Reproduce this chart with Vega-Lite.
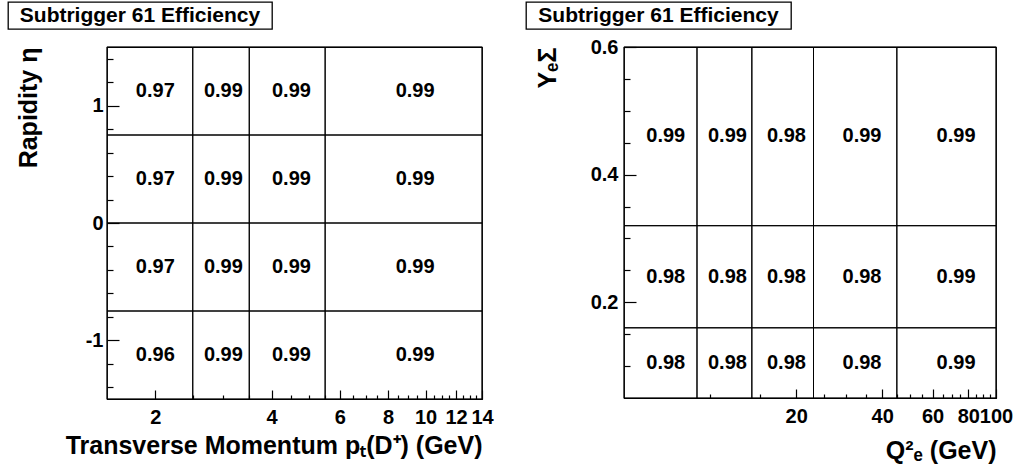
{
  "$schema": "https://vega.github.io/schema/vega-lite/v6.json",
  "padding": {"left": 7, "top": 1, "right": 0, "bottom": 0},
  "background": "white",
  "config": {
    "font": "Liberation Sans",
    "view": {"stroke": "black", "strokeWidth": 1.2},
    "axis": {
      "labelFont": "Liberation Sans", "labelFontWeight": "bold", "labelFontSize": 20, "labelColor": "black",
      "titleFont": "Liberation Sans", "titleFontWeight": "bold", "titleFontSize": 25, "titleColor": "black",
      "domain": false, "grid": false, "tickColor": "black", "tickWidth": 1.2, "labelFlush": false, "labelOverlap": false
    },
    "text": {"font": "Liberation Sans", "fontWeight": "bold", "fontSize": 20, "color": "black"}
  },
  "datasets": {
    "hdr": [{"title": "Subtrigger 61 Efficiency"}],
    "none": [],
    "left": [
      {"pt_lo": 1.5, "pt_hi": 2.5, "pt_c": 2, "eta_lo": 0.75, "eta_hi": 1.5, "eta_c": 1.125, "eff": 0.97},
      {"pt_lo": 2.5, "pt_hi": 3.5, "pt_c": 3, "eta_lo": 0.75, "eta_hi": 1.5, "eta_c": 1.125, "eff": 0.99},
      {"pt_lo": 3.5, "pt_hi": 5.5, "pt_c": 4.5, "eta_lo": 0.75, "eta_hi": 1.5, "eta_c": 1.125, "eff": 0.99},
      {"pt_lo": 5.5, "pt_hi": 14, "pt_c": 9.4, "eta_lo": 0.75, "eta_hi": 1.5, "eta_c": 1.125, "eff": 0.99},
      {"pt_lo": 1.5, "pt_hi": 2.5, "pt_c": 2, "eta_lo": 0, "eta_hi": 0.75, "eta_c": 0.375, "eff": 0.97},
      {"pt_lo": 2.5, "pt_hi": 3.5, "pt_c": 3, "eta_lo": 0, "eta_hi": 0.75, "eta_c": 0.375, "eff": 0.99},
      {"pt_lo": 3.5, "pt_hi": 5.5, "pt_c": 4.5, "eta_lo": 0, "eta_hi": 0.75, "eta_c": 0.375, "eff": 0.99},
      {"pt_lo": 5.5, "pt_hi": 14, "pt_c": 9.4, "eta_lo": 0, "eta_hi": 0.75, "eta_c": 0.375, "eff": 0.99},
      {"pt_lo": 1.5, "pt_hi": 2.5, "pt_c": 2, "eta_lo": -0.75, "eta_hi": 0, "eta_c": -0.375, "eff": 0.97},
      {"pt_lo": 2.5, "pt_hi": 3.5, "pt_c": 3, "eta_lo": -0.75, "eta_hi": 0, "eta_c": -0.375, "eff": 0.99},
      {"pt_lo": 3.5, "pt_hi": 5.5, "pt_c": 4.5, "eta_lo": -0.75, "eta_hi": 0, "eta_c": -0.375, "eff": 0.99},
      {"pt_lo": 5.5, "pt_hi": 14, "pt_c": 9.4, "eta_lo": -0.75, "eta_hi": 0, "eta_c": -0.375, "eff": 0.99},
      {"pt_lo": 1.5, "pt_hi": 2.5, "pt_c": 2, "eta_lo": -1.5, "eta_hi": -0.75, "eta_c": -1.125, "eff": 0.96},
      {"pt_lo": 2.5, "pt_hi": 3.5, "pt_c": 3, "eta_lo": -1.5, "eta_hi": -0.75, "eta_c": -1.125, "eff": 0.99},
      {"pt_lo": 3.5, "pt_hi": 5.5, "pt_c": 4.5, "eta_lo": -1.5, "eta_hi": -0.75, "eta_c": -1.125, "eff": 0.99},
      {"pt_lo": 5.5, "pt_hi": 14, "pt_c": 9.4, "eta_lo": -1.5, "eta_hi": -0.75, "eta_c": -1.125, "eff": 0.99}
    ],
    "right": [
      {"q_lo": 5, "q_hi": 9, "q_c": 7, "y_lo": 0.32, "y_hi": 0.6, "y_c": 0.46, "eff": 0.99},
      {"q_lo": 9, "q_hi": 14, "q_c": 11.5, "y_lo": 0.32, "y_hi": 0.6, "y_c": 0.46, "eff": 0.99},
      {"q_lo": 14, "q_hi": 23, "q_c": 18.5, "y_lo": 0.32, "y_hi": 0.6, "y_c": 0.46, "eff": 0.98},
      {"q_lo": 23, "q_hi": 45, "q_c": 34, "y_lo": 0.32, "y_hi": 0.6, "y_c": 0.46, "eff": 0.99},
      {"q_lo": 45, "q_hi": 100, "q_c": 72.5, "y_lo": 0.32, "y_hi": 0.6, "y_c": 0.46, "eff": 0.99},
      {"q_lo": 5, "q_hi": 9, "q_c": 7, "y_lo": 0.16, "y_hi": 0.32, "y_c": 0.24, "eff": 0.98},
      {"q_lo": 9, "q_hi": 14, "q_c": 11.5, "y_lo": 0.16, "y_hi": 0.32, "y_c": 0.24, "eff": 0.98},
      {"q_lo": 14, "q_hi": 23, "q_c": 18.5, "y_lo": 0.16, "y_hi": 0.32, "y_c": 0.24, "eff": 0.98},
      {"q_lo": 23, "q_hi": 45, "q_c": 34, "y_lo": 0.16, "y_hi": 0.32, "y_c": 0.24, "eff": 0.98},
      {"q_lo": 45, "q_hi": 100, "q_c": 72.5, "y_lo": 0.16, "y_hi": 0.32, "y_c": 0.24, "eff": 0.99},
      {"q_lo": 5, "q_hi": 9, "q_c": 7, "y_lo": 0.05, "y_hi": 0.16, "y_c": 0.105, "eff": 0.98},
      {"q_lo": 9, "q_hi": 14, "q_c": 11.5, "y_lo": 0.05, "y_hi": 0.16, "y_c": 0.105, "eff": 0.98},
      {"q_lo": 14, "q_hi": 23, "q_c": 18.5, "y_lo": 0.05, "y_hi": 0.16, "y_c": 0.105, "eff": 0.98},
      {"q_lo": 23, "q_hi": 45, "q_c": 34, "y_lo": 0.05, "y_hi": 0.16, "y_c": 0.105, "eff": 0.98},
      {"q_lo": 45, "q_hi": 100, "q_c": 72.5, "y_lo": 0.05, "y_hi": 0.16, "y_c": 0.105, "eff": 0.99}
    ]
  },
  "spacing": 6,
  "vconcat": [
    {
      "spacing": 252,
      "hconcat": [
        {
          "width": 264, "height": 27,
          "view": {"stroke": "black", "strokeWidth": 1.3},
          "data": {"name": "hdr"},
          "mark": {"type": "text", "fontSize": 21, "baseline": "middle", "align": "center"},
          "encoding": {"text": {"field": "title"}}
        },
        {
          "width": 265, "height": 27,
          "view": {"stroke": "black", "strokeWidth": 1.3},
          "data": {"name": "hdr"},
          "mark": {"type": "text", "fontSize": 21, "baseline": "middle", "align": "center"},
          "encoding": {"text": {"field": "title"}}
        }
      ]
    },
    {
      "spacing": 40,
      "hconcat": [
        {
          "spacing": 5,
          "hconcat": [
            {
              "width": 1, "height": 1,
              "view": {"stroke": "transparent"},
              "data": {"name": "none"},
              "mark": {"type": "text"},
              "encoding": {"text": {"field": "eff"}}
            },
            {
              "width": 375, "height": 352,
              "data": {"name": "left"},
              "layer": [
                {
                  "mark": {"type": "rect", "fill": null, "fillOpacity": 0, "stroke": "black", "strokeWidth": 1},
                  "encoding": {
                    "x": {"field": "pt_lo", "type": "quantitative", "scale": {"type": "log", "domain": [1.5, 14], "nice": false},
                          "axis": {"values": [2, 4, 6, 8, 10, 12, 14], "tickSize": -9, "labelPadding": 17, "title": "Transverse Momentum p\u209c(D\u207a) (GeV)", "titleAnchor": "end", "titlePadding": 6}},
                    "x2": {"field": "pt_hi"},
                    "y": {"field": "eta_lo", "type": "quantitative", "scale": {"domain": [-1.5, 1.5], "nice": false, "zero": false},
                          "axis": {"values": [-1, 0, 1], "labelExpr": "'' + datum.value", "tickSize": -12, "labelPadding": 16, "title": "Rapidity  \u03b7", "titleAnchor": "end", "titlePadding": 44}},
                    "y2": {"field": "eta_hi"}
                  }
                },
                {
                  "mark": {"type": "text", "align": "center", "baseline": "middle"},
                  "encoding": {
                    "x": {"field": "pt_c", "type": "quantitative",
                          "axis": {"orient": "bottom", "values": [2.5, 3, 3.5, 4.5, 5, 5.5, 6.5, 7, 7.5, 8.5, 9, 9.5, 10.5, 11, 11.5, 12.5, 13, 13.5], "tickSize": -4, "labels": false, "title": null}},
                    "y": {"field": "eta_c", "type": "quantitative",
                          "axis": {"orient": "left", "values": [-1.4, -1.2, -0.8, -0.6, -0.4, -0.2, 0.2, 0.4, 0.6, 0.8, 1.2, 1.4], "tickSize": -6, "labels": false, "title": null}},
                    "text": {"field": "eff", "type": "quantitative", "format": ".2f"}
                  }
                }
              ],
              "resolve": {"axis": {"x": "independent", "y": "independent"}}
            }
          ]
        },
        {
          "width": 372, "height": 351,
          "data": {"name": "right"},
          "layer": [
            {
              "mark": {"type": "rect", "fill": null, "fillOpacity": 0, "stroke": "black", "strokeWidth": 1},
              "encoding": {
                "x": {"field": "q_lo", "type": "quantitative", "scale": {"type": "log", "domain": [5, 100], "nice": false},
                      "axis": {"values": [20, 40, 60, 80, 100], "tickSize": -9, "labelPadding": 17, "title": "Q\u00b2\u2091 (GeV)", "titleAnchor": "end", "titlePadding": 12}},
                "x2": {"field": "q_hi"},
                "y": {"field": "y_lo", "type": "quantitative", "scale": {"domain": [0.05, 0.6], "nice": false, "zero": false},
                      "axis": {"values": [0.2, 0.4, 0.6], "format": ".1f", "tickSize": -12, "labelPadding": 18, "title": "Y\u2091\u03a3", "titleAnchor": "end", "titlePadding": 30}},
                "y2": {"field": "y_hi"}
              }
            },
            {
              "mark": {"type": "text", "align": "center", "baseline": "middle"},
              "encoding": {
                "x": {"field": "q_c", "type": "quantitative",
                      "axis": {"orient": "bottom", "values": [10, 15, 25, 30, 35, 45, 50, 55, 65, 70, 75, 85, 90, 95], "tickSize": -4, "labels": false, "title": null}},
                "y": {"field": "y_c", "type": "quantitative",
                      "axis": {"orient": "left", "values": [0.1, 0.15, 0.25, 0.3, 0.35, 0.45, 0.5, 0.55], "tickSize": -6, "labels": false, "title": null}},
                "text": {"field": "eff", "type": "quantitative", "format": ".2f"}
              }
            }
          ],
          "resolve": {"axis": {"x": "independent", "y": "independent"}}
        }
      ]
    }
  ]
}
